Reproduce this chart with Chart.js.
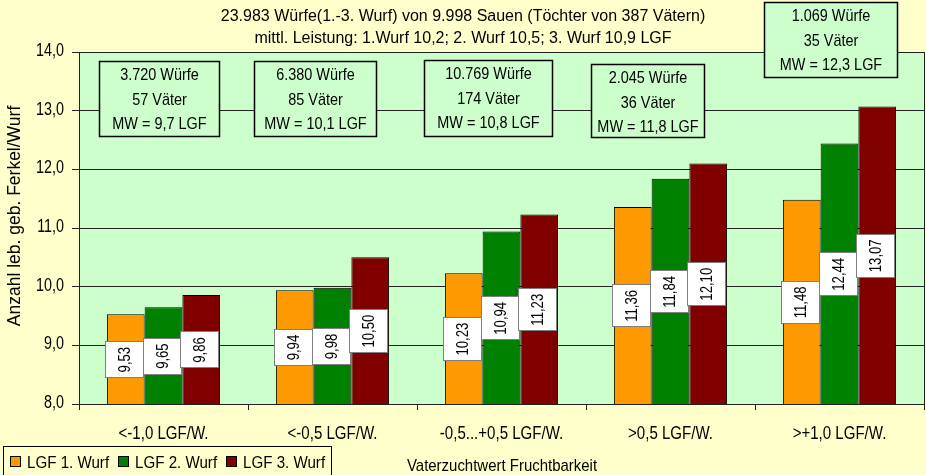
<!DOCTYPE html>
<html>
<head>
<meta charset="utf-8">
<script src="https://cdn.jsdelivr.net/npm/chart.js@4"></script>
<style>
html,body{margin:0;padding:0;background:#FFFFCC;}
#wrap{width:926px;height:475px;position:relative;}
</style>
</head>
<body>
<div id="wrap"><canvas id="c" width="926" height="475"></canvas></div>
<script>
// ---- data ----
const categories = ['<-1,0 LGF/W.', '<-0,5 LGF/W.', '-0,5...+0,5 LGF/W.', '>0,5 LGF/W.', '>+1,0 LGF/W.'];
const seriesNames = ['LGF 1. Wurf', 'LGF 2. Wurf', 'LGF 3. Wurf'];
const wurf1 = [9.53, 9.94, 10.23, 11.36, 11.48];
const wurf2 = [9.65, 9.98, 10.94, 11.84, 12.44];
const wurf3 = [9.86, 10.50, 11.23, 12.10, 13.07];
const boxWuerfe = ['3.720 Würfe', '6.380 Würfe', '10.769 Würfe', '2.045 Würfe', '1.069 Würfe'];
const boxVaeter = ['57 Väter', '85 Väter', '174 Väter', '36 Väter', '35 Väter'];
const boxMW = ['MW = 9,7 LGF', 'MW = 10,1 LGF', 'MW = 10,8 LGF', 'MW = 11,8 LGF', 'MW = 12,3 LGF'];
const titleLines = ['23.983 Würfe(1.-3. Wurf) von 9.998 Sauen (Töchter von 387 Vätern)',
                    'mittl. Leistung: 1.Wurf 10,2; 2. Wurf 10,5; 3. Wurf 10,9 LGF'];
const yTitle = 'Anzahl leb. geb. Ferkel/Wurf';
const xTitle = 'Vaterzuchtwert Fruchtbarkeit';
const yMin = 8, yMax = 14, yStep = 1;

// ---- styles ----
const colors = ['#FF9900', '#008000', '#800000'];
const FONT = '"Liberation Sans", Arial, sans-serif';
// annotation box layout (pixels): left, top, width, height
const boxRects = [[99,61,120,75],[254,61,122,75],[424,60,128,76],[591,64,113,73],[764,2,133,75]];

const fmt = v => v.toFixed(2).replace('.', ',');

// draw text with horizontal condensing (narrow font look)
function txt(ctx, s, x, y, size, sx, align, rot) {
  ctx.save();
  ctx.translate(x, y);
  if (rot) ctx.rotate(rot);
  ctx.scale(sx, 1);
  ctx.font = size + 'px ' + FONT;
  ctx.textAlign = align || 'center';
  ctx.fillText(s, 0, 0);
  ctx.restore();
}

const bgPlugin = {
  id: 'bg',
  beforeDraw(chart) {
    const {ctx, chartArea: a} = chart;
    ctx.save();
    ctx.fillStyle = '#FFFFCC';
    ctx.fillRect(0, 0, chart.width, chart.height);
    ctx.fillStyle = '#CCFFCC';
    ctx.fillRect(a.left, a.top, a.right - a.left, a.bottom - a.top);
    ctx.restore();
  },
  afterDraw(chart) {
    const {ctx, chartArea: a} = chart;
    const xs = chart.scales.x, ys = chart.scales.y;
    ctx.save();
    ctx.textBaseline = 'alphabetic';
    // right border
    ctx.strokeStyle = '#222';
    ctx.lineWidth = 1;
    ctx.beginPath();
    ctx.moveTo(a.right + 0.5, a.top);
    ctx.lineTo(a.right + 0.5, a.bottom);
    ctx.stroke();
    ctx.fillStyle = '#000';
    // y tick labels
    ys.ticks.forEach((t, i) => {
      const y = ys.getPixelForTick(i);
      txt(ctx, t.value.toFixed(1).replace('.', ','), 64, y + 4, 17.5, 0.82, 'right');
    });
    // x tick labels
    categories.forEach((c, i) => {
      txt(ctx, c, xs.getPixelForValue(i), 439, 17.5, 0.86, 'center');
    });
    // title
    txt(ctx, titleLines[0], 463, 21, 16, 1, 'center');
    txt(ctx, titleLines[1], 463, 43, 16, 1, 'center');
    // annotation boxes
    boxRects.forEach((r, i) => {
      ctx.fillStyle = '#CCFFCC';
      ctx.fillRect(r[0], r[1], r[2], r[3]);
      ctx.strokeStyle = '#000';
      ctx.lineWidth = 1.5;
      ctx.strokeRect(r[0] + 0.5, r[1] + 0.5, r[2], r[3]);
      ctx.fillStyle = '#000';
      const cx = r[0] + r[2] / 2 + 0.5;
      txt(ctx, boxWuerfe[i], cx, r[1] + 19, 17, 0.85, 'center');
      txt(ctx, boxVaeter[i], cx, r[1] + 43.5, 17, 0.85, 'center');
      txt(ctx, boxMW[i], cx, r[1] + 68, 17, 0.85, 'center');
    });
    // y title
    txt(ctx, yTitle, 20, 216, 17.5, 1.0, 'center', -Math.PI / 2);
    // x title
    txt(ctx, xTitle, 502, 471, 17, 0.88, 'center');
    // legend
    ctx.fillStyle = '#FFFFCC';
    ctx.fillRect(3, 446, 328, 40);
    ctx.strokeStyle = '#000';
    ctx.lineWidth = 1;
    ctx.strokeRect(3.5, 446.5, 328, 40);
    const lx = [10, 118, 226];
    seriesNames.forEach((n, i) => {
      ctx.fillStyle = colors[i];
      ctx.fillRect(lx[i], 456, 11, 11);
      ctx.strokeStyle = '#000';
      ctx.strokeRect(lx[i] + 0.5, 456.5, 10, 10);
      ctx.fillStyle = '#000';
      txt(ctx, n, lx[i] + 17, 468, 17, 0.89, 'left');
    });
    ctx.restore();
  }
};

const labelPlugin = {
  id: 'vlabels',
  afterDatasetsDraw(chart) {
    const {ctx, chartArea: a} = chart;
    ctx.save();
    chart.data.datasets.forEach((ds, di) => {
      const meta = chart.getDatasetMeta(di);
      meta.data.forEach((bar, i) => {
        const s = fmt(ds.data[i]);
        const base = Math.min(bar.base, a.bottom);
        const cy = (bar.y + base) / 2;
        const w = Math.round(bar.width);
        ctx.font = '16px ' + FONT;
        const tw = ctx.measureText(s).width * 0.82;
        const h = Math.round(tw + 10);
        const x0 = Math.round(bar.x - bar.width / 2 - 2);
        const y0 = Math.round(cy - h / 2);
        ctx.fillStyle = '#FFFFFF';
        ctx.fillRect(x0, y0, w, h);
        ctx.strokeStyle = '#808080';
        ctx.lineWidth = 1;
        ctx.strokeRect(x0 + 0.5, y0 + 0.5, w, h);
        ctx.fillStyle = '#000';
        ctx.textBaseline = 'alphabetic';
        txt(ctx, s, x0 + w / 2 + 6, cy + 0.5, 16, 0.82, 'center', -Math.PI / 2);
      });
    });
    ctx.restore();
  }
};

const datasets = [wurf1, wurf2, wurf3].map((d, i) => ({
  label: seriesNames[i],
  data: d,
  backgroundColor: colors[i],
  borderColor: '#000',
  borderWidth: 1,
  borderSkipped: false,
  categoryPercentage: 0.67,
  barPercentage: 1.0
}));

new Chart(document.getElementById('c'), {
  type: 'bar',
  data: { labels: categories, datasets },
  options: {
    responsive: false,
    animation: false,
    devicePixelRatio: 1,
    layout: { padding: { left: 0, top: 52, right: 2, bottom: 0 } },
    plugins: { legend: { display: false }, tooltip: { enabled: false }, title: { display: false } },
    scales: {
      x: {
        offset: true,
        grid: { offset: true, drawOnChartArea: false, drawTicks: true, tickLength: 6, color: '#222' },
        border: { color: '#222', width: 1 },
        ticks: { color: 'rgba(0,0,0,0)', font: { family: FONT, size: 13 }, padding: 12, maxRotation: 0, autoSkip: false },
        afterFit(s) { s.height = 71; }
      },
      y: {
        min: yMin, max: yMax,
        grid: { color: '#222', lineWidth: 1, tickLength: 7 },
        border: { color: '#222', width: 1 },
        ticks: { stepSize: yStep, color: 'rgba(0,0,0,0)', font: { family: FONT, size: 13 }, padding: 4 },
        afterFit(s) { s.width = 79; }
      }
    }
  },
  plugins: [bgPlugin, labelPlugin]
});
</script>
</body>
</html>
